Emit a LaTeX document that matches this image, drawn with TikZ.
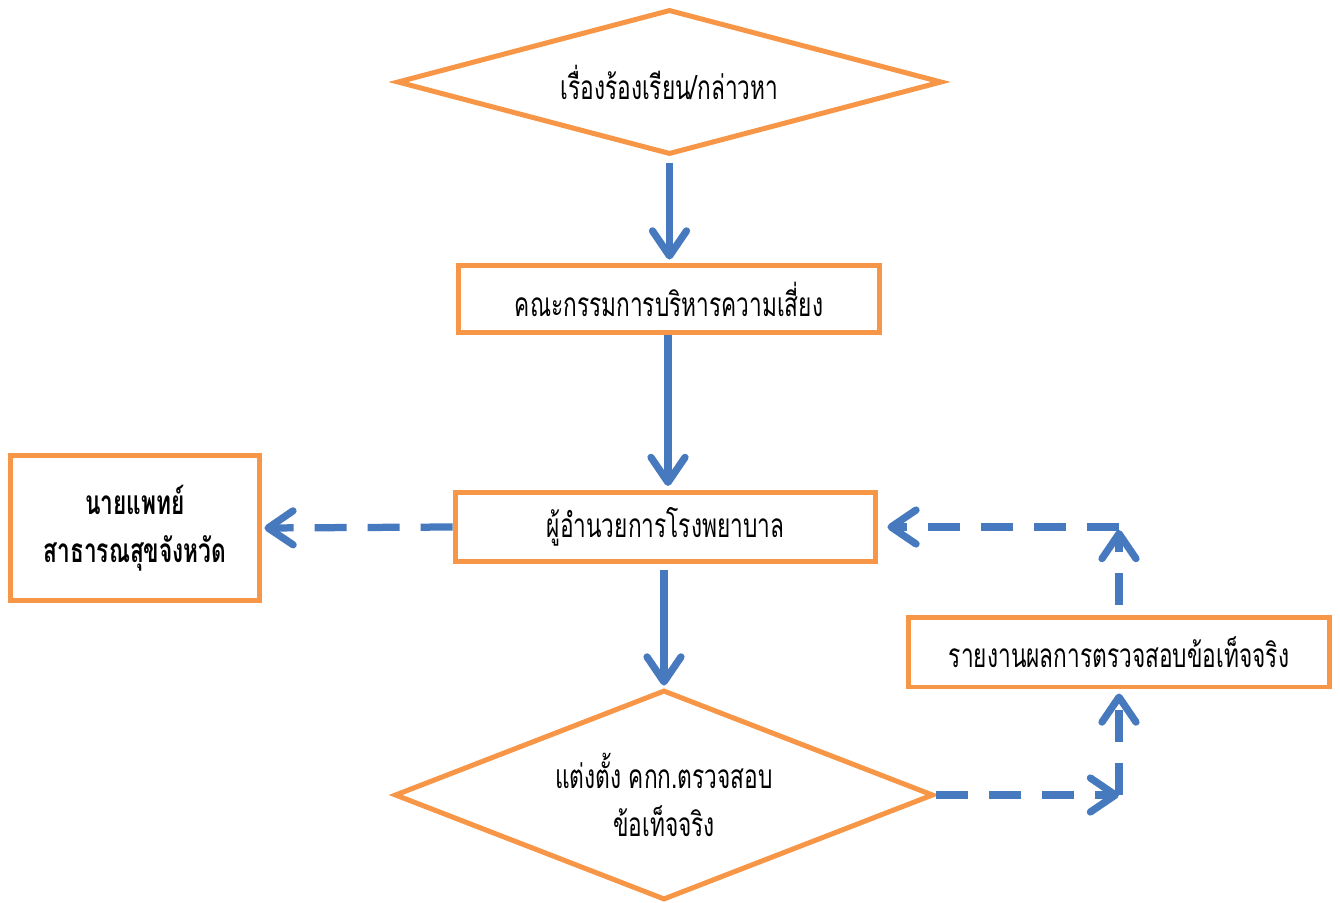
\documentclass[tikz,border=0pt]{standalone}
\usepackage{fontspec}
\setmainfont[Script=Thai, FakeStretch=0.68]{Loma}
\usetikzlibrary{shapes.geometric, arrows.meta}
\definecolor{flowor}{RGB}{247,150,70}
\definecolor{flowbl}{RGB}{70,121,189}

\begin{document}
\begin{tikzpicture} [x = 0.02cm, y = -0.02cm,
  box/.style = {draw = flowor, line width = 0.1cm, rectangle, align = center, font = \fontsize{19}{27}\selectfont},
  choice/.style = {draw = flowor, line width = 0.1cm, diamond, inner sep = 0pt, align = center, font = \fontsize{19}{27}\selectfont},
  link/.style = {draw = flowbl, line width = 0.145cm, -{Straight Barb[length = 0.5cm, width = 0.68cm, line cap = round, line join = round]}},
  linkdash/.style = {link, dash pattern = on 0.64cm off 0.42cm}]
\useasboundingbox (0,0) rectangle (1340,903);
\node[choice, shape aspect = 3.76, minimum width = 10.9cm, minimum height = 2.9cm] (ask) at (669.5,82) {เรื่องร้องเรียน/กล่าวหา};
\node[box, minimum width = 8.44cm, minimum height = 1.36cm] (risk) at (669,299) {คณะกรรมการบริหารความเสี่ยง};
\node[box, minimum width = 8.42cm, minimum height = 1.4cm] (dir) at (665.5,527) {ผู้อำนวยการโรงพยาบาล};
\node[box, minimum width = 5cm, minimum height = 2.92cm, font = \fontsize{19}{27}\selectfont\bfseries] (doc) at (135,528) {นายแพทย์\\สาธารณสุขจังหวัด};
\node[box, minimum width = 8.44cm, minimum height = 1.4cm] (rep) at (1119,652) {รายงานผลการตรวจสอบข้อเท็จจริง};
\node[choice, shape aspect = 2.57, minimum width = 10.78cm, minimum height = 4.2cm] (comm) at (664,795) {แต่งตั้ง คกก.ตรวจสอบ\\ข้อเท็จจริง};
\coordinate (turn1) at (1119,795);
\coordinate (turn2) at (1119,527);

\draw [link, shorten < = 0.12cm, shorten > = 0.06cm] (ask.south) -- (ask.south |- risk.north);
\draw [link, shorten > = 0.12cm] (risk.south -| 668,0) -- (668,492);
\draw [link, shorten < = 0.12cm, shorten > = 0.04cm] (comm.north |- dir.south) -- (comm.north);
\draw [linkdash, shorten > = 0.04cm] (dir.west) -- (doc.east);
\draw [linkdash] (comm.east) -- (turn1);
\draw [linkdash, shorten > = 0.08cm] (turn1) -- (rep.south);
\draw [linkdash, shorten < = 0.2cm, shorten > = 0.06cm] (rep.north) -- (turn2);
\draw [linkdash, shorten > = 0.18cm] (turn2) -- (dir.east);
\end{tikzpicture}
\end{document}
